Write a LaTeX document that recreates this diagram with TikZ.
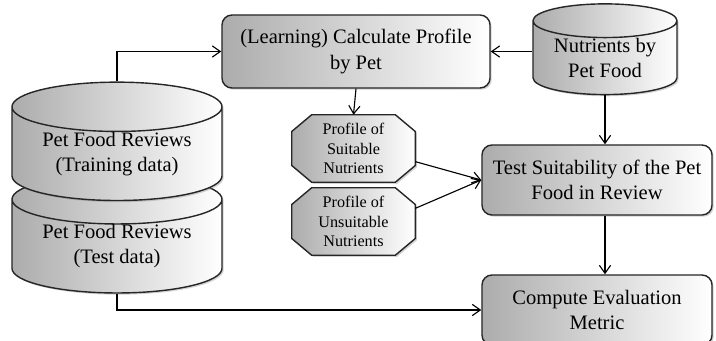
\documentclass[tikz,border=0pt]{standalone}
\usepackage{fontspec}
\setmainfont{Liberation Serif}
\usetikzlibrary{arrows.meta,shapes.geometric,shadows,backgrounds}

\begin{document}
\begin{tikzpicture}[x=0.025cm, y=-0.025cm]
	\tikzset{
		arr/.style={-{Straight Barb[length=2mm, width=2.8mm]}, line width=0.8pt},
		shade/.style={left color=gray!65, right color=white, draw=black!85, line width=1pt,
			drop shadow={opacity=0.35, shadow xshift=1.2pt, shadow yshift=-1.2pt}},
		db/.style={shade, shape=cylinder, shape border rotate=90, aspect=0.33,
			align=center, inner sep=0pt, font=\fontsize{14.6}{17.8}\selectfont},
		proc/.style={shade, rounded corners=0.25cm, align=center, inner sep=0pt,
			font=\fontsize{14.6}{17.8}\selectfont},
		prof/.style={align=center, inner sep=0pt, minimum width=3.075cm,
			minimum height=1.675cm, font=\fontsize{11.5}{14}\selectfont}
	}
	\useasboundingbox (0,0) rectangle (716,341);

	% data stores (test one first, training one sits on top of it)
	\node[db, minimum width=5.25cm, minimum height=2.325cm] (testdb) at (117,246.5)
		{Pet Food Reviews\\(Test data)};
	\node[db, minimum width=5.25cm, minimum height=2.55cm] (train) at (117,154)
		{Pet Food Reviews\\(Training data)};
	\node[db, minimum width=3.6cm, minimum height=2.2cm] (nut) at (605,58)
		{Nutrients by\\Pet Food};

	% processing steps
	\node[proc, minimum width=6.7cm, minimum height=1.825cm] (learn) at (356,51.5)
		{(Learning) Calculate Profile\\by Pet};
	\node[proc, minimum width=5.75cm, minimum height=1.75cm] (check) at (597,180)
		{Test Suitability of the Pet\\Food in Review};
	\node[proc, minimum width=5.75cm, minimum height=1.75cm] (eval) at (597,310)
		{Compute Evaluation\\Metric};

	% profiles (octagons drawn behind the text)
	\node[prof] (suit) at (353.5,148.5) {Profile of\\Suitable\\Nutrients};
	\node[prof] (unsuit) at (353.5,221.5) {Profile of\\Unsuitable\\Nutrients};
	\begin{scope}[on background layer]
		\foreach \n in {suit,unsuit}
			\draw[shade] ([xshift=0.5cm]\n.north west) -- ([xshift=-0.5cm]\n.north east)
				-- ([yshift=-0.42cm]\n.north east) -- ([yshift=0.42cm]\n.south east)
				-- ([xshift=-0.5cm]\n.south east) -- ([xshift=0.5cm]\n.south west)
				-- ([yshift=0.42cm]\n.south west) -- ([yshift=-0.42cm]\n.north west) -- cycle;
	\end{scope}

	% connectors
	\draw[arr] (train.north) |- (learn.west);
	\draw[arr] (nut.west |- learn.east) -- (learn.east);
	\draw[arr] (learn.south) -- (suit.north);
	\draw[arr] (suit.-12) -- (check.west);
	\draw[arr] (unsuit.12) -- (check.west);
	\draw[arr] (nut.south) -- (nut.south |- check.north);
	\draw[arr] (check.south -| nut.south) -- (eval.north -| nut.south);
	\draw[arr] (testdb.south) |- (eval.west);
\end{tikzpicture}
\end{document}
